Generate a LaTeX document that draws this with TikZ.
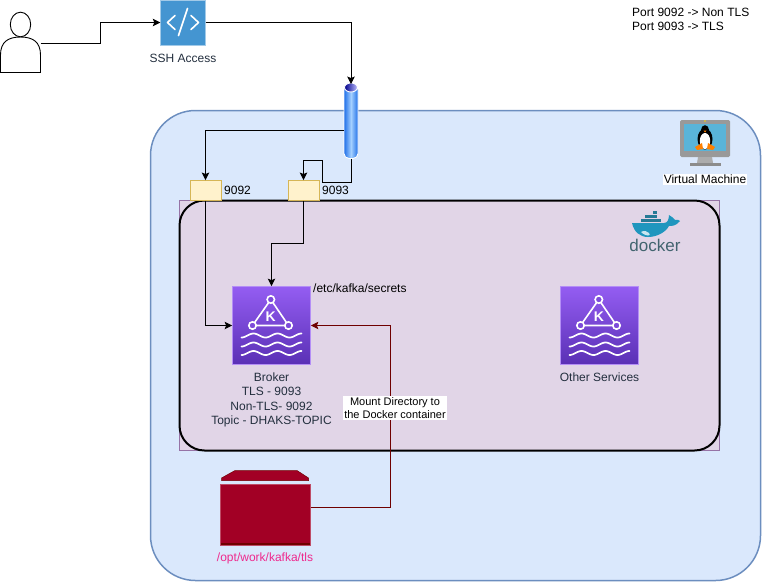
\documentclass[tikz,border=0pt]{standalone}
\usepackage{fontspec}
\setmainfont{Liberation Sans}
\usetikzlibrary{arrows.meta}
\definecolor{vmfill}{HTML}{DAE8FC}
\definecolor{vmline}{HTML}{6C8EBF}
\definecolor{dockfill}{HTML}{E1D5E7}
\definecolor{dockline}{HTML}{9673A6}
\definecolor{portfill}{HTML}{FFF2CC}
\definecolor{portline}{HTML}{D6B656}
\definecolor{mountline}{HTML}{6F0000}
\definecolor{folderfill}{HTML}{A20025}
\definecolor{labelgrey}{HTML}{232F3E}
\definecolor{whale}{HTML}{1F96BE}
\definecolor{crate}{HTML}{267A96}
\definecolor{kafkatop}{HTML}{945DF2}
\definecolor{kafkabot}{HTML}{5A30B5}
\definecolor{sshfill}{HTML}{4495D1}
\definecolor{pipeedge}{HTML}{1F6FE8}
\definecolor{pipemid}{HTML}{A4D0FF}
\definecolor{screen}{HTML}{59B4D9}
\tikzset{
  link/.style={draw=black, line width=0.95pt, -{Stealth[length=7.5pt, width=7.5pt, inset=1.5pt]}},
  mountlink/.style={link, draw=mountline},
  portbox/.style={draw=portline, fill=portfill, line width=0.9pt, minimum width=31pt, minimum height=20pt, inner sep=0pt},
  kafkabox/.style={draw=kafkatop!70!white, line width=0.7pt, top color=kafkatop, bottom color=kafkabot, minimum size=78pt, inner sep=0pt},
  txt/.style={font=\fontsize{12}{14.3}\selectfont, inner sep=0pt, align=center},
  awstxt/.style={txt, text=labelgrey},
  kafkaicon/.pic={
    \draw[white, line width=1.6pt] (-0.7, -26) -- (-19, 0) -- (17, 0) -- cycle;
    \foreach \cx/\cy in {-0.7/-26, -19/0, 17/0}
      \draw[white, line width=1.6pt, fill=kafkatop!60!kafkabot] (\cx, \cy) circle (3.7);
    \node[font=\bfseries\fontsize{14}{14}\selectfont, text=white] at (-0.7, -9) {K};
    \foreach \wy in {10, 19, 27.5}
      \draw[white, line width=1.7pt, line cap=round] plot[domain=-30:30, samples=49] (\x, {\wy - 2*sin(\x*15)});
  }
}
\begin{document}
\begin{tikzpicture}[x=1pt, y=-1pt]
  \useasboundingbox (0, 0) rectangle (762, 582);
  \draw[draw=vmline, fill=vmfill, line width=1.5pt, rounded corners=45pt] (150.5, 110.5) rectangle (760.5, 580.5);
  \draw[draw=dockline, fill=dockfill] (179.5, 200.5) rectangle (719.5, 450.5);
  \draw[line width=2pt, rounded corners=25pt] (179.5, 200.5) rectangle (719.5, 450.5);
  % user
  \draw[fill=white, line width=0.9pt] (0.5, 72.5) -- (0.5, 55) .. controls (0.5, 42) and (8, 37) .. (20.5, 37)
     .. controls (33, 37) and (40.5, 42) .. (40.5, 55) -- (40.5, 72.5) -- cycle;
  \draw[fill=white, line width=0.9pt] (20.5, 24.5) ellipse (10.2 and 12.3);
  \coordinate (user) at (40.5, 43);
  % ssh
  \node[draw=sshfill!50!white, fill=sshfill, minimum size=45pt, inner sep=0pt] (ssh) at (183, 22.5) {};
  \draw[white, line width=1.6pt, line cap=round, line join=round]
     (175, 15.5) -- (167.5, 22.5) -- (175, 29.5)
     (191, 15.5) -- (198.5, 22.5) -- (191, 29.5)
     (187.5, 8.5) -- (178.5, 35.5);
  \node[awstxt] (sshlabel) at (183, 58.5) {SSH Access};
  \coordinate (jogA) at (100.5, 43);
  \draw[link] (user) -- (jogA) |- (ssh.west);
  % pipe
  \node[draw=white, line width=0.9pt, rounded corners=5pt, left color=pipeedge, right color=pipeedge, middle color=pipemid, minimum width=14pt, minimum height=74pt, inner sep=0pt] (pipe) at (351, 121.5) {};
  \draw[white, line width=0.9pt, left color=blue!55!black, right color=blue!25!white] (351, 87.5) ellipse (6.5 and 4.5);
  \draw[link] (ssh.east) -| (pipe.north);
  % ports
  \node[portbox] (port9092) at (205.5, 190.5) {};
  \node[portbox] (port9093) at (303.5, 190.5) {};
  \node[txt, anchor=west] (lab9092) at (224, 190.5) {9092};
  \node[txt, anchor=west] (lab9093) at (322, 190.5) {9093};
  \coordinate (tapA) at (pipe.west |- 0, 130.5);
  \draw[link] (tapA) -| (port9092.north);
  \coordinate (jogB) at (322.5, 182.5);
  \coordinate (jogC) at (322.5, 160.5);
  \draw[link] (pipe.south) |- (jogB) -- (jogC) -| (port9093.north);
  % brokers
  \node[kafkabox] (broker) at (271.5, 325.5) {};
  \pic at (broker) {kafkaicon};
  \node[kafkabox] (other) at (599.5, 325.5) {};
  \pic at (other) {kafkaicon};
  \node[awstxt, anchor=north] (brokerlabel) at (271.5, 372.5) {Broker\\TLS - 9093\\Non-TLS- 9092\\Topic - DHAKS-TOPIC};
  \node[awstxt] (otherlabel) at (599.5, 377.5) {Other Services};
  \node[txt, anchor=west] (secrets) at (313, 288.5) {/etc/kafka/secrets};
  \coordinate (jogD) at (271.5, 243.5);
  \draw[link] (port9092.south) |- (broker.west);
  \draw[link] (port9093.south) |- (jogD) -- (broker.north);
  % folder
  \fill[folderfill, draw=mountline, line width=0.5pt] (221.5, 480.5) -- (221.5, 478) -- (235, 470.5) -- (297, 470.5) -- (308.5, 478) -- (308.5, 480.5) -- cycle;
  \node[fill=folderfill, draw=folderfill!70!white, minimum width=90pt, minimum height=61pt, inner sep=0pt] (folder) at (265.5, 515) {};
  \fill[mountline] (221, 543) rectangle (310, 545);
  \node[txt, text=magenta!85!red!85!white] (folderlabel) at (265, 558.5) {/opt/work/kafka/tls};
  \coordinate (jogE) at (390.5, 507.5);
  \coordinate (jogF) at (390.5, 325.5);
  \draw[mountlink] (folder.east |- jogE) -- (jogE) -- (jogF) -- (broker.east);
  \node[txt, fill=white, inner xsep=1pt, inner ysep=1pt, font=\fontsize{11}{13}\selectfont] (mountlabel) at (395, 408) {Mount Directory to\\the Docker container};
  % notes
  \node[txt, anchor=north west, align=left] (ports) at (632, 8) {Port 9092 -> Non TLS\\Port 9093 -> TLS};
  % virtual machine
  \fill[gray!80, rounded corners=1.5pt] (680, 120) rectangle (730, 157);
  \fill[screen] (684, 124) rectangle (726, 151);
  \fill[yellow!70!orange] (705, 121) circle (0.8);
  \fill[gray!65] (698, 157) -- (712, 157) -- (713, 163) -- (697, 163) -- cycle;
  \fill[gray!90] (690, 163) rectangle (721, 166);
  \fill[black] (705, 139) ellipse (7.5 and 10.5);
  \fill[black] (705, 130) ellipse (4 and 4.8);
  \fill[white] (705, 141) ellipse (5.2 and 8);
  \fill[orange] (695, 147) -- (702, 143) -- (703, 149) -- (697, 150) -- cycle (715, 147) -- (708, 143) -- (707, 149) -- (713, 150) -- cycle;
  \fill[orange] (703.5, 130.5) -- (706.5, 130.5) -- (705, 132.5) -- cycle;
  \node[txt, fill=white, inner xsep=1pt, inner ysep=1pt] (vmlabel) at (705, 179.5) {Virtual Machine};
  % docker
  \foreach \bx/\by in {641/218.5, 645/218.5, 649/218.5, 653/218.5, 657/218.5, 645/214.5, 649/214.5, 653/214.5, 653/210.5}
    \fill[crate] (\bx, \by) rectangle ++(3.6, 3.6);
  \fill[whale] (632, 223) -- (664, 223) .. controls (667, 223) and (669, 220) .. (669, 215)
     .. controls (672, 216) and (674, 219) .. (675, 220) .. controls (677, 219) and (679, 220) .. (680, 221)
     .. controls (676, 226) and (672, 226) .. (669, 226) .. controls (665, 233) and (656, 237) .. (648, 237)
     .. controls (640, 237) and (634, 232) .. (632, 223) -- cycle;
  \fill[white!75!whale] (641, 232) .. controls (644, 230) and (647, 231) .. (649, 233) .. controls (652, 236) and (646, 237) .. (641, 232) -- cycle;
  \node[txt, text=crate!50!black!80!white, font=\fontsize{17}{17}\selectfont] (dockerlabel) at (655, 245.5) {docker};
\end{tikzpicture}
\end{document}
